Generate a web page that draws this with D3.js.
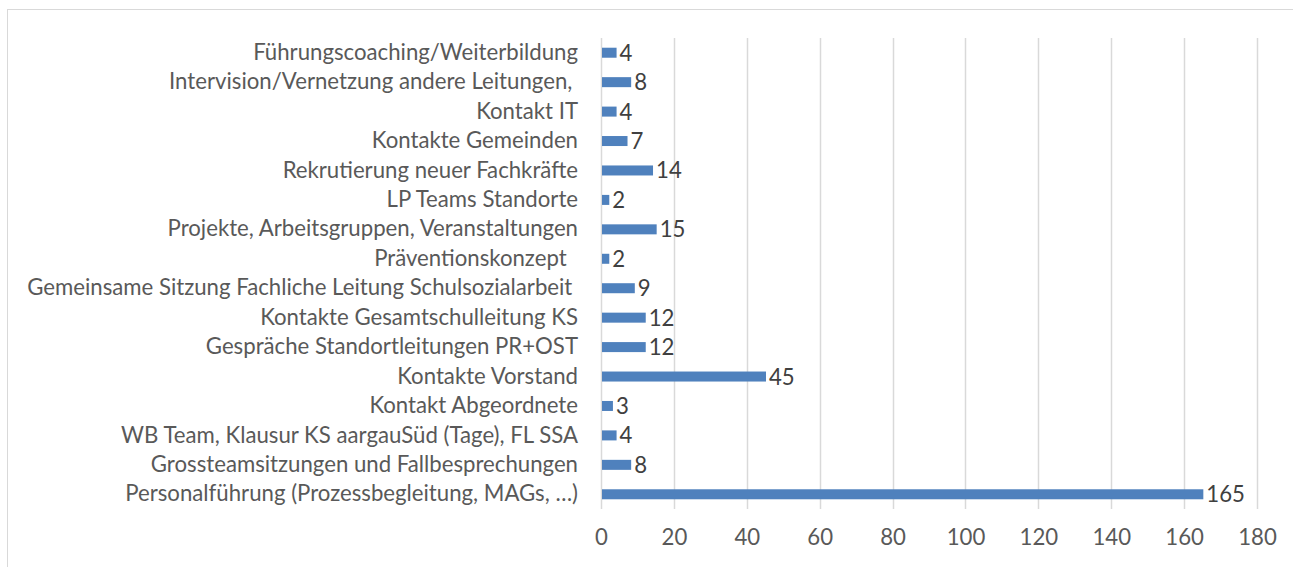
<!DOCTYPE html>
<html>
<head>
<meta charset="utf-8">
<script src="https://cdn.jsdelivr.net/npm/d3@7"></script>
<style>
  body { margin: 0; background: #fff; }
  svg { display: block; font-family: Lato, sans-serif; }
</style>
</head>
<body>
<div id="chart"></div>
<script>
// categories, top to bottom as drawn
const categories = [
  "Führungscoaching/Weiterbildung",
  "Intervision/Vernetzung andere Leitungen, ",
  "Kontakt IT",
  "Kontakte Gemeinden",
  "Rekrutierung neuer Fachkräfte",
  "LP Teams Standorte",
  "Projekte, Arbeitsgruppen, Veranstaltungen",
  "Präventionskonzept  ",
  "Gemeinsame Sitzung Fachliche Leitung Schulsozialarbeit ",
  "Kontakte Gesamtschulleitung KS",
  "Gespräche Standortleitungen PR+OST",
  "Kontakte Vorstand",
  "Kontakt Abgeordnete",
  "WB Team, Klausur KS aargauSüd (Tage), FL SSA",
  "Grossteamsitzungen und Fallbesprechungen",
  "Personalführung (Prozessbegleitung, MAGs, …)"
]
const values = [4, 8, 4, 7, 14, 2, 15, 2, 9, 12, 12, 45, 3, 4, 8, 165]
const xTicks = [0, 20, 40, 60, 80, 100, 120, 140, 160, 180]

const width = 1293, height = 567
const margin = {top: 38, right: 36, bottom: 58, left: 601}
const plotW = width - margin.left - margin.right
const plotH = height - margin.top - margin.bottom
const fontSize = 22.2

const data = categories.map((c, i) => ({cat: c, val: values[i]}))

const svg = d3.select('#chart')
  .append('svg')
    .attr('width', width)
    .attr('height', height)

// chart frame
svg.append('rect')
    .attr('x', 7.5)
    .attr('y', 9.5)
    .attr('width', width + 20)
    .attr('height', height + 20)
    .attr('fill', 'none')
    .attr('stroke', '#d9d9d9')

const g = svg.append('g')
    .attr('transform', `translate(${margin.left}, ${margin.top})`)

const x = d3.scaleLinear()
    .domain([0, 180])
    .range([0, plotW])

const y = d3.scaleBand()
    .domain(categories)
    .range([0, plotH])
    .paddingInner(0.66)
    .paddingOuter(0.33)

// vertical grid lines
g.append('g')
  .selectAll('line')
  .data(xTicks)
  .join('line')
    .attr('x1', d => Math.round(x(d)) + 0.5)
    .attr('x2', d => Math.round(x(d)) + 0.5)
    .attr('y1', 0)
    .attr('y2', plotH)
    .attr('stroke', '#d9d9d9')
    .attr('stroke-width', 1.5)

// x axis labels
g.append('g')
    .attr('transform', `translate(0, ${plotH})`)
    .call(d3.axisBottom(x).tickValues(xTicks).tickSize(0).tickPadding(20))
    .call(g => g.select('.domain').remove())
    .call(g => g.selectAll('text')
      .attr('font-size', fontSize)
      .attr('font-family', 'Lato, sans-serif')
      .attr('fill', '#595959'))

// category labels
g.append('g')
    .call(d3.axisLeft(y).tickSize(0).tickPadding(23))
    .call(g => g.select('.domain').remove())
    .call(g => g.selectAll('text')
      .attr('font-size', fontSize)
      .attr('font-family', 'Lato, sans-serif')
      .attr('fill', '#595959')
      .style('white-space', 'pre'))

// bars
g.selectAll('.bar')
  .data(data)
  .join('rect')
    .attr('class', 'bar')
    .attr('x', x(0) + 1)
    .attr('y', d => y(d.cat))
    .attr('width', d => x(d.val) - x(0))
    .attr('height', y.bandwidth())
    .attr('fill', '#4f81bd')

// value labels
g.selectAll('.val')
  .data(data)
  .join('text')
    .attr('class', 'val')
    .attr('x', d => x(d.val) + 4)
    .attr('y', d => y(d.cat) + y.bandwidth() / 2)
    .attr('dy', '0.36em')
    .attr('font-size', fontSize)
    .attr('fill', '#404040')
    .text(d => d.val)
</script>
</body>
</html>
